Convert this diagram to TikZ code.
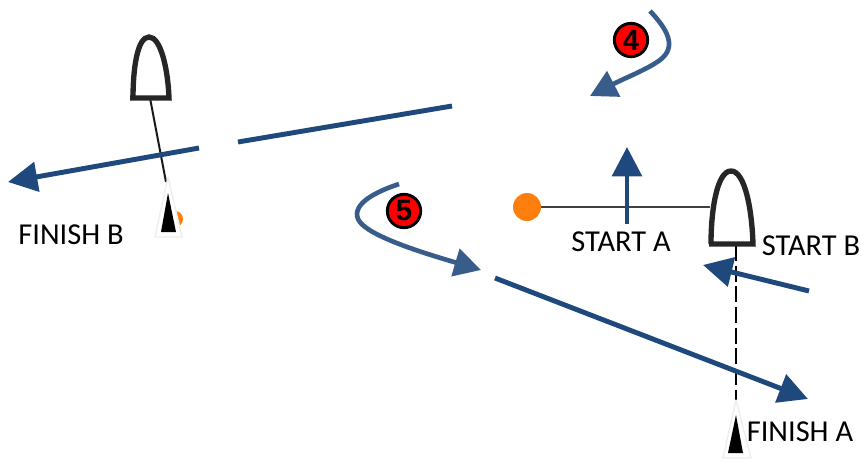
\documentclass[tikz,border=0pt]{standalone}
\usepackage{fontspec}
\setmainfont{Carlito}
\setsansfont{Liberation Sans}
\usetikzlibrary{arrows.meta}
\definecolor{course}{HTML}{1F497D}
\definecolor{curved}{HTML}{385D8A}
\definecolor{buoy}{HTML}{FF7F0E}
\tikzset{
	leg/.style={line width=3.7pt, course},
	legtip/.style={leg, -{Triangle[length=22pt, width=22pt]}},
	curveleg/.style={line width=3.5pt, curved, -{Triangle[length=20pt, width=21pt]}},
	hull/.style={line width=4pt, black!85, fill=white, line join=miter},
	flag/.style={draw=black!7, fill=white, line join=round, line width=1pt},
	lbl/.style={font=\fontsize{22.8}{25}\selectfont, inner sep=0pt},
	num/.style={circle, draw=black, line width=2.2pt, fill=red, minimum size=25pt, inner sep=0pt, font=\fontsize{22}{22}\selectfont\sffamily\bfseries},
}
\begin{document}
\begin{tikzpicture}[x=0.75pt, y=-0.75pt]
	\useasboundingbox (0,0) rectangle (861,461);
	% marks
	\node[circle, fill=buoy, minimum size=21pt, inner sep=0pt] (pin) at (527,207) {};
	\node[circle, fill=buoy, minimum size=12pt, inner sep=0pt] (pinb) at (175,219) {};
	\coordinate (hullA) at (710,207);
	\coordinate (bowA) at (736,245);
	\coordinate (tipA) at (736,400);
	\coordinate (bowB) at (150,98);
	\coordinate (tipB) at (166,182);
	\draw[line width=1.5pt, black!75] (pin) -- (hullA);
	\draw[line width=1.5pt, dash pattern=on 12pt off 3.5pt] (bowA) -- (tipA);
	\draw[line width=1.5pt, black!90] (bowB) -- (tipB);
	% legs
	\draw[legtip] (199,148) -- (8,182);
	\draw[leg] (452,106) -- (238,142);
	\draw[legtip] (495,278) -- (808,399);
	\draw[legtip] (627,224) -- (627,147);
	\draw[legtip] (809,291) -- (703,265);
	\draw[curveleg] (650,11) .. controls (668,30) and (677,47) .. (660,60) .. controls (648,69) and (625,78) .. (590,96);
	\draw[curveleg] (399,184) .. controls (375,192) and (352,204) .. (358,219) .. controls (365,235) and (420,252) .. (481,270);
	% boats
	\draw[hull] (130,98) -- (169,98) .. controls (168,70) and (161,37) .. (149,37) .. controls (137,37) and (133,70) .. (133,98);
	\draw[hull] (709,244) -- (753,244) .. controls (752,210) and (745,171) .. (731,171) .. controls (717,171) and (711,210) .. (711,244);
	% finish flags
	\filldraw[flag] (168,177) -- (182,237) -- (155,237) -- cycle;
	\fill (168,193) -- (176,232) -- (161,232) -- cycle;
	\filldraw[flag] (736,400) -- (751,458) -- (723,458) -- cycle;
	\fill (736,415) -- (743,453) -- (728,453) -- cycle;
	% numbers
	\node[num] (four) at (631,40) {4};
	\node[num] (five) at (404,211) {5};
	% labels
	\node[lbl] (startA) at (621,242) {START A};
	\node[lbl] (startB) at (811,246) {START B};
	\node[lbl] (finishB) at (71,235) {FINISH B};
	\node[lbl] (finishA) at (800,432) {FINISH A};
\end{tikzpicture}
\end{document}
